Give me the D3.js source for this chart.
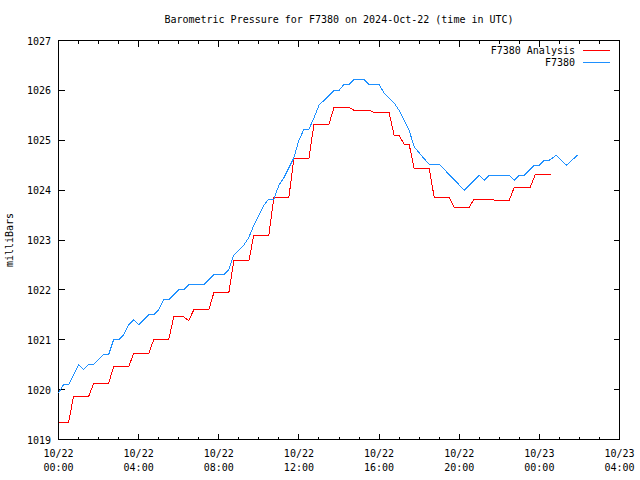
<!DOCTYPE html>
<html><head><meta charset="utf-8">
<script src="https://cdn.jsdelivr.net/npm/d3@7"></script>
<style>
body{margin:0;background:#fff;}
svg{display:block;}
text{font-family:"DejaVu Sans Mono",monospace;font-size:10px;fill:#000;}
</style></head>
<body>
<script>
// Hours after 2024-10-22 00:00 UTC
const blueHours = [0,0.25,0.5,1.0,1.25,1.5,1.75,2.25,2.5,2.75,3.0,3.25,3.5,3.75,4.0,4.5,4.75,5.0,5.25,5.5,6.0,6.25,6.5,7.25,7.75,8.25,8.5,8.75,9.0,9.25,9.5,9.75,10.0,10.25,10.5,10.75,11.0,11.25,11.5,11.75,12.0,12.25,12.5,12.75,13.0,13.25,13.5,13.75,14.0,14.25,14.5,14.75,15.0,15.25,15.5,16.0,16.25,16.5,16.75,17.0,17.25,17.5,17.75,18.0,18.25,18.5,19.0,20.25,21.0,21.25,21.5,22.5,22.75,23.0,23.25,23.75,24.0,24.25,24.5,24.85,25.35,25.9];
const blueValues = [1019.93,1020.1,1020.1,1020.5,1020.4,1020.5,1020.5,1020.7,1020.7,1021.0,1021.0,1021.1,1021.3,1021.4,1021.3,1021.5,1021.5,1021.6,1021.8,1021.8,1022.0,1022.0,1022.1,1022.1,1022.3,1022.3,1022.4,1022.7,1022.8,1022.9,1023.05,1023.3,1023.5,1023.7,1023.82,1023.82,1024.1,1024.25,1024.45,1024.65,1025.0,1025.22,1025.22,1025.45,1025.7,1025.8,1025.9,1026.0,1026.0,1026.12,1026.12,1026.22,1026.22,1026.22,1026.12,1026.12,1025.95,1025.85,1025.75,1025.6,1025.4,1025.2,1024.87,1024.75,1024.63,1024.52,1024.52,1024.0,1024.3,1024.2,1024.3,1024.3,1024.2,1024.3,1024.3,1024.5,1024.5,1024.6,1024.6,1024.7,1024.5,1024.7];

const redHours = [0,0.5,0.75,1.5,1.75,2.5,2.75,3.5,3.75,4.5,4.75,5.5,5.75,6.25,6.5,6.75,7.5,7.75,8.5,8.75,9.5,9.75,10.5,10.75,11.5,11.75,12.5,12.75,13.5,13.75,14.5,14.75,15.5,15.75,16.5,16.75,17.0,17.25,17.5,17.75,18.5,18.75,19.5,19.75,20.5,20.75,21.5,21.75,22.5,22.75,23.55,23.8,24.6];
const redValues = [1019.34,1019.34,1019.86,1019.86,1020.12,1020.12,1020.46,1020.46,1020.72,1020.72,1021.0,1021.0,1021.46,1021.46,1021.38,1021.6,1021.6,1021.94,1021.94,1022.58,1022.58,1023.1,1023.1,1023.86,1023.86,1024.64,1024.64,1025.32,1025.32,1025.66,1025.66,1025.6,1025.6,1025.56,1025.56,1025.1,1025.1,1024.92,1024.92,1024.44,1024.44,1023.86,1023.86,1023.66,1023.66,1023.82,1023.82,1023.8,1023.8,1024.06,1024.06,1024.32,1024.32];

const yTicks = [1019,1020,1021,1022,1023,1024,1025,1026,1027];
const xMajorTicks = [0,4,8,12,16,20,24,28];
const xTickDates = ["10/22","10/22","10/22","10/22","10/22","10/22","10/23","10/23"];
const xTickTimes = ["00:00","04:00","08:00","12:00","16:00","20:00","00:00","04:00"];
const seriesNames = ["F7380 Analysis","F7380"];
const seriesColors = ["#ff0000","#1e90ff"];
const title = "Barometric Pressure for F7380 on 2024-Oct-22 (time in UTC)";
const yLabel = "milliBars";

const W = 640, H = 480;
const L = 58.5, R = 619.5, T = 40.5, B = 439.5;

const svg = d3.select("body").append("svg").attr("width", W).attr("height", H);
svg.append("rect").attr("width", W).attr("height", H).attr("fill", "#fff");

const x = d3.scaleLinear().domain([0, 28]).range([L, R]);
const y = d3.scaleLinear().domain([1019, 1027]).range([B, T]);

// title
svg.append("text").attr("x", (L + R) / 2).attr("y", 23).attr("text-anchor", "middle").text(title);
// y label
svg.append("text").attr("transform", `translate(13,${(T + B) / 2}) rotate(-90)`).attr("text-anchor", "middle").text(yLabel);

const g = svg.append("g").attr("shape-rendering", "crispEdges");

// ticks (inward, mirrored)
const xMinor = d3.range(0, 29, 1);
xMinor.forEach(h => {
  const major = h % 4 === 0;
  const len = major ? 6 : 3;
  g.append("line").attr("x1", x(h)).attr("x2", x(h)).attr("y1", B).attr("y2", B - len).attr("stroke", "#000");
  g.append("line").attr("x1", x(h)).attr("x2", x(h)).attr("y1", T).attr("y2", T + len).attr("stroke", "#000");
});
yTicks.forEach(v => {
  g.append("line").attr("x1", L).attr("x2", L + 6).attr("y1", y(v)).attr("y2", y(v)).attr("stroke", "#000");
  g.append("line").attr("x1", R).attr("x2", R - 6).attr("y1", y(v)).attr("y2", y(v)).attr("stroke", "#000");
  svg.append("text").attr("x", 51).attr("y", y(v) + 4).attr("text-anchor", "end").text(v);
});
xMajorTicks.forEach((h, i) => {
  svg.append("text").attr("x", x(h)).attr("y", 457).attr("text-anchor", "middle").text(xTickDates[i]);
  svg.append("text").attr("x", x(h)).attr("y", 471).attr("text-anchor", "middle").text(xTickTimes[i]);
});

// frame
g.append("rect").attr("x", L).attr("y", T).attr("width", R - L).attr("height", B - T)
  .attr("fill", "none").attr("stroke", "#000");

const line = d3.line().x(d => x(d[0])).y(d => y(d[1]));
const redData = redHours.map((h, i) => [h, redValues[i]]);
const blueData = blueHours.map((h, i) => [h, blueValues[i]]);

svg.append("path").datum(redData).attr("d", line).attr("fill", "none")
  .attr("stroke", seriesColors[0]).attr("stroke-width", 1).attr("shape-rendering", "crispEdges");
svg.append("path").datum(blueData).attr("d", line).attr("fill", "none")
  .attr("stroke", seriesColors[1]).attr("stroke-width", 1).attr("shape-rendering", "crispEdges");

// legend
seriesNames.forEach((name, i) => {
  const ly = 50 + i * 12;
  svg.append("text").attr("x", 575).attr("y", ly + 4).attr("text-anchor", "end").text(name);
  svg.append("line").attr("x1", 583).attr("x2", 610).attr("y1", ly + 0.5).attr("y2", ly + 0.5)
    .attr("stroke", seriesColors[i]).attr("shape-rendering", "crispEdges");
});
</script>
</body></html>
